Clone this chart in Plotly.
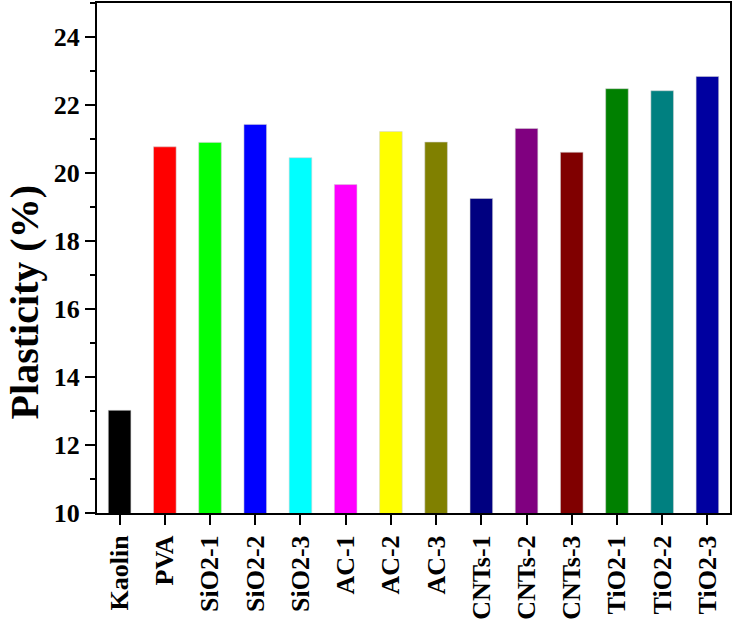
import plotly.graph_objects as go

categories = ["Kaolin", "PVA", "SiO2-1", "SiO2-2", "SiO2-3", "AC-1", "AC-2", "AC-3",
              "CNTs-1", "CNTs-2", "CNTs-3", "TiO2-1", "TiO2-2", "TiO2-3"]
plasticity = [13.02, 20.77, 20.90, 21.43, 20.45, 19.66, 21.22, 20.91,
              19.25, 21.31, 20.61, 22.48, 22.42, 22.84]
colors = ["#000000", "#FF0000", "#00FF00", "#0000FF", "#00FFFF", "#FF00FF", "#FFFF00",
          "#808000", "#000080", "#800080", "#800000", "#008000", "#008080", "#0000A0"]
y_tickvals = [10, 12, 14, 16, 18, 20, 22, 24]

font_family = "Liberation Serif, Times New Roman, serif"

fig = go.Figure()
fig.add_trace(go.Bar(
    x=categories, y=plasticity,
    marker=dict(color=colors, line=dict(color="rgba(210,210,210,0.7)", width=0.8)),
))

fig.update_layout(
    width=733, height=621,
    margin=dict(l=97, r=3, t=1, b=107),
    plot_bgcolor="white", paper_bgcolor="white",
    bargap=0.5,
    showlegend=False,
    font=dict(family=font_family, color="black"),
)

fig.update_xaxes(
    type="category",
    tickangle=-90,
    tickfont=dict(family=font_family, size=26, color="black", weight="bold"),
    ticks="outside", ticklen=10, tickwidth=2, tickcolor="black",
    showline=True, linewidth=2, linecolor="black", mirror=True,
    showgrid=False,
)

fig.update_yaxes(
    range=[10, 25],
    tickvals=y_tickvals,
    tickfont=dict(family=font_family, size=26, color="black", weight="bold"),
    ticks="outside", ticklen=10, tickwidth=2, tickcolor="black",
    minor=dict(dtick=1, ticks="outside", ticklen=5, tickwidth=2, tickcolor="black", showgrid=False),
    showline=True, linewidth=2, linecolor="black", mirror=True,
    showgrid=False, zeroline=False,
)

fig.add_annotation(
    text="<b>Plasticity (%)</b>",
    xref="paper", yref="paper",
    x=-0.1153, y=0.413,
    xanchor="center", yanchor="middle",
    textangle=-90, showarrow=False,
    font=dict(family=font_family, size=40, color="black"),
)

fig.write_html("out.html")
